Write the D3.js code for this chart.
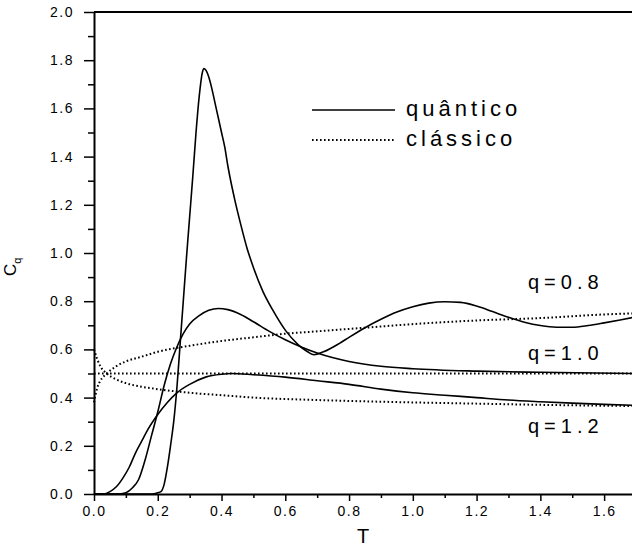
<!DOCTYPE html>
<html>
<head>
<meta charset="utf-8">
<script src="https://cdn.jsdelivr.net/npm/d3@7"></script>
<style>
  body { margin: 0; background: #fff; }
  text { font-family: "Liberation Sans", Arial, sans-serif; fill: #000; }
  .axis path, .axis line { stroke: #000; }
</style>
</head>
<body>
<div class="chart"></div>
<script>
// data (T, C_q)
const quantum08T = [0, 0.18, 0.2, 0.21, 0.22, 0.23, 0.24, 0.25, 0.26, 0.27, 0.28, 0.29, 0.3, 0.31, 0.32, 0.33, 0.34, 0.345, 0.35, 0.36, 0.37, 0.38, 0.39, 0.4, 0.41, 0.42, 0.44, 0.46, 0.48, 0.5, 0.53, 0.56, 0.6, 0.64, 0.67, 0.69, 0.72, 0.77, 0.8, 0.85, 0.9, 0.95, 1.0, 1.05, 1.1, 1.15, 1.2, 1.25, 1.3, 1.35, 1.4, 1.45, 1.5, 1.55, 1.6, 1.65, 1.7];
const quantum08C = [0, 0, 0.005, 0.01, 0.04, 0.11, 0.2, 0.3, 0.44, 0.62, 0.8, 0.98, 1.15, 1.32, 1.5, 1.65, 1.75, 1.765, 1.76, 1.73, 1.68, 1.62, 1.56, 1.5, 1.44, 1.36, 1.23, 1.12, 1.02, 0.94, 0.84, 0.765, 0.68, 0.62, 0.59, 0.578, 0.59, 0.625, 0.65, 0.69, 0.725, 0.755, 0.777, 0.792, 0.798, 0.795, 0.78, 0.757, 0.733, 0.713, 0.699, 0.692, 0.692, 0.699, 0.71, 0.722, 0.735];

const quantum10T = [0, 0.08, 0.1, 0.12, 0.14, 0.16, 0.18, 0.2, 0.22, 0.24, 0.26, 0.28, 0.3, 0.33, 0.36, 0.39, 0.42, 0.46, 0.5, 0.55, 0.6, 0.65, 0.7, 0.8, 0.9, 1.0, 1.2, 1.4, 1.7];
const quantum10C = [0, 0, 0.005, 0.025, 0.06, 0.14, 0.24, 0.34, 0.45, 0.54, 0.61, 0.665, 0.705, 0.74, 0.762, 0.77, 0.765, 0.745, 0.715, 0.675, 0.64, 0.61, 0.585, 0.55, 0.53, 0.52, 0.51, 0.505, 0.5];

const quantum12T = [0, 0.03, 0.05, 0.07, 0.09, 0.11, 0.13, 0.15, 0.17, 0.2, 0.23, 0.26, 0.3, 0.35, 0.4, 0.43, 0.5, 0.6, 0.7, 0.8, 0.9, 1.0, 1.1, 1.2, 1.3, 1.4, 1.5, 1.6, 1.7];
const quantum12C = [0, 0, 0.01, 0.03, 0.065, 0.11, 0.17, 0.22, 0.27, 0.33, 0.38, 0.42, 0.455, 0.485, 0.497, 0.5, 0.495, 0.485, 0.47, 0.455, 0.435, 0.42, 0.41, 0.4, 0.39, 0.383, 0.377, 0.372, 0.368];

const classic08T = [0, 0.01, 0.02, 0.04, 0.07, 0.1, 0.15, 0.2, 0.3, 0.4, 0.5, 0.6, 0.7, 0.8, 0.9, 1.0, 1.2, 1.4, 1.6, 1.7];
const classic08C = [0.38, 0.44, 0.47, 0.5, 0.53, 0.55, 0.57, 0.59, 0.615, 0.635, 0.65, 0.665, 0.675, 0.685, 0.695, 0.705, 0.72, 0.73, 0.745, 0.75];

const classic10T = [0, 1.7];
const classic10C = [0.5, 0.5];

const classic12T = [0, 0.01, 0.02, 0.04, 0.07, 0.1, 0.15, 0.2, 0.3, 0.4, 0.5, 0.7, 1.0, 1.2, 1.4, 1.7];
const classic12C = [0.6, 0.56, 0.53, 0.5, 0.475, 0.46, 0.445, 0.435, 0.42, 0.41, 0.4, 0.39, 0.38, 0.375, 0.37, 0.365];

const xMajor = [0, 0.2, 0.4, 0.6, 0.8, 1.0, 1.2, 1.4, 1.6];
const xMinor = [0.1, 0.3, 0.5, 0.7, 0.9, 1.1, 1.3, 1.5];
const yMajor = [0, 0.2, 0.4, 0.6, 0.8, 1.0, 1.2, 1.4, 1.6, 1.8, 2.0];
const yMinor = [0.1, 0.3, 0.5, 0.7, 0.9, 1.1, 1.3, 1.5, 1.7, 1.9];

const qLabels = ["q=0.8", "q=1.0", "q=1.2"];
const qLabelY = [0.85, 0.555, 0.255];

const width = 632, height = 549;
const margin = ({top: 12, right: 636, bottom: 494, left: 94});

const svg = d3.select(".chart").append("svg")
    .attr("width", width)
    .attr("height", height);

const x = d3.scaleLinear().domain([0, 1.7]).range([margin.left, margin.right]);
const y = d3.scaleLinear().domain([0, 2]).range([margin.bottom, margin.top]);

// axes
const fmt = d3.format(".1f");

svg.append("g")
    .attr("class", "axis")
    .attr("transform", "translate(0," + margin.bottom + ")")
    .call(d3.axisBottom(x).tickValues(xMinor).tickSize(4).tickSizeOuter(0).tickFormat(""))
    .call(g => g.select(".domain").remove());

svg.append("g")
    .attr("class", "axis x-axis")
    .attr("transform", "translate(0," + margin.bottom + ")")
    .call(d3.axisBottom(x).tickValues(xMajor).tickSize(7).tickSizeOuter(0).tickPadding(5).tickFormat(fmt))
    .call(g => g.select(".domain").attr("stroke-width", 2));

svg.append("g")
    .attr("class", "axis")
    .attr("transform", "translate(" + margin.left + ",0)")
    .call(d3.axisLeft(y).tickValues(yMinor).tickSize(6).tickSizeOuter(0).tickFormat(""))
    .call(g => g.select(".domain").remove());

svg.append("g")
    .attr("class", "axis y-axis")
    .attr("transform", "translate(" + margin.left + ",0)")
    .call(d3.axisLeft(y).tickValues(yMajor).tickSize(10).tickSizeOuter(0).tickPadding(10).tickFormat(fmt))
    .call(g => g.select(".domain").attr("stroke-width", 2));

svg.selectAll(".axis line").attr("stroke-width", 1.5);
svg.selectAll(".axis text")
    .attr("font-size", 14)
    .attr("letter-spacing", "1.5px")
    .attr("fill", "#000");

// top and right frame
svg.append("line")
    .attr("x1", margin.left).attr("x2", margin.right)
    .attr("y1", margin.top).attr("y2", margin.top)
    .attr("stroke", "#000").attr("stroke-width", 2);
svg.append("line")
    .attr("x1", margin.right).attr("x2", margin.right)
    .attr("y1", margin.top).attr("y2", margin.bottom)
    .attr("stroke", "#000").attr("stroke-width", 2);

// curves
const line = d3.line()
    .x(d => x(d[0]))
    .y(d => y(d[1]))
    .curve(d3.curveMonotoneX);

const zip = (ts, cs) => ts.map((t, i) => [t, cs[i]]);

const quantum = [zip(quantum08T, quantum08C), zip(quantum10T, quantum10C), zip(quantum12T, quantum12C)];
const classic = [zip(classic08T, classic08C), zip(classic10T, classic10C), zip(classic12T, classic12C)];

const plot = svg.append("g");

plot.selectAll(".classic")
    .data(classic)
    .enter().append("path")
    .attr("class", "classic")
    .attr("fill", "none")
    .attr("stroke", "#000")
    .attr("stroke-width", 2)
    .attr("stroke-dasharray", "1.6,2.4")
    .attr("d", line);

plot.selectAll(".quantum")
    .data(quantum)
    .enter().append("path")
    .attr("class", "quantum")
    .attr("fill", "none")
    .attr("stroke", "#000")
    .attr("stroke-width", 1.6)
    .attr("d", line);

// q labels
svg.selectAll(".qlabel")
    .data(qLabels)
    .enter().append("text")
    .attr("class", "qlabel")
    .attr("x", 528)
    .attr("y", (d, i) => y(qLabelY[i]))
    .attr("font-size", 20)
    .attr("letter-spacing", "5px")
    .text(d => d);

// legend
const legend = svg.append("g");
legend.append("line")
    .attr("x1", 312).attr("x2", 395)
    .attr("y1", 110).attr("y2", 110)
    .attr("stroke", "#000").attr("stroke-width", 1.6);
legend.append("line")
    .attr("x1", 312).attr("x2", 394)
    .attr("y1", 140).attr("y2", 140)
    .attr("stroke", "#000").attr("stroke-width", 2)
    .attr("stroke-dasharray", "1.6,2.4");
legend.append("text")
    .attr("x", 406).attr("y", 116)
    .attr("font-size", 22)
    .attr("letter-spacing", "4px")
    .text("quântico");
legend.append("text")
    .attr("x", 406).attr("y", 146)
    .attr("font-size", 22)
    .attr("letter-spacing", "4px")
    .text("clássico");

// axis titles
svg.append("text")
    .attr("x", 363)
    .attr("y", 543)
    .attr("text-anchor", "middle")
    .attr("font-size", 20)
    .text("T");

const yTitle = svg.append("text")
    .attr("transform", "translate(16,276) rotate(-90)")
    .attr("font-size", 17);
yTitle.append("tspan").text("C");
yTitle.append("tspan").attr("font-size", 11).attr("dy", 5).text("q");
</script>
</body>
</html>
